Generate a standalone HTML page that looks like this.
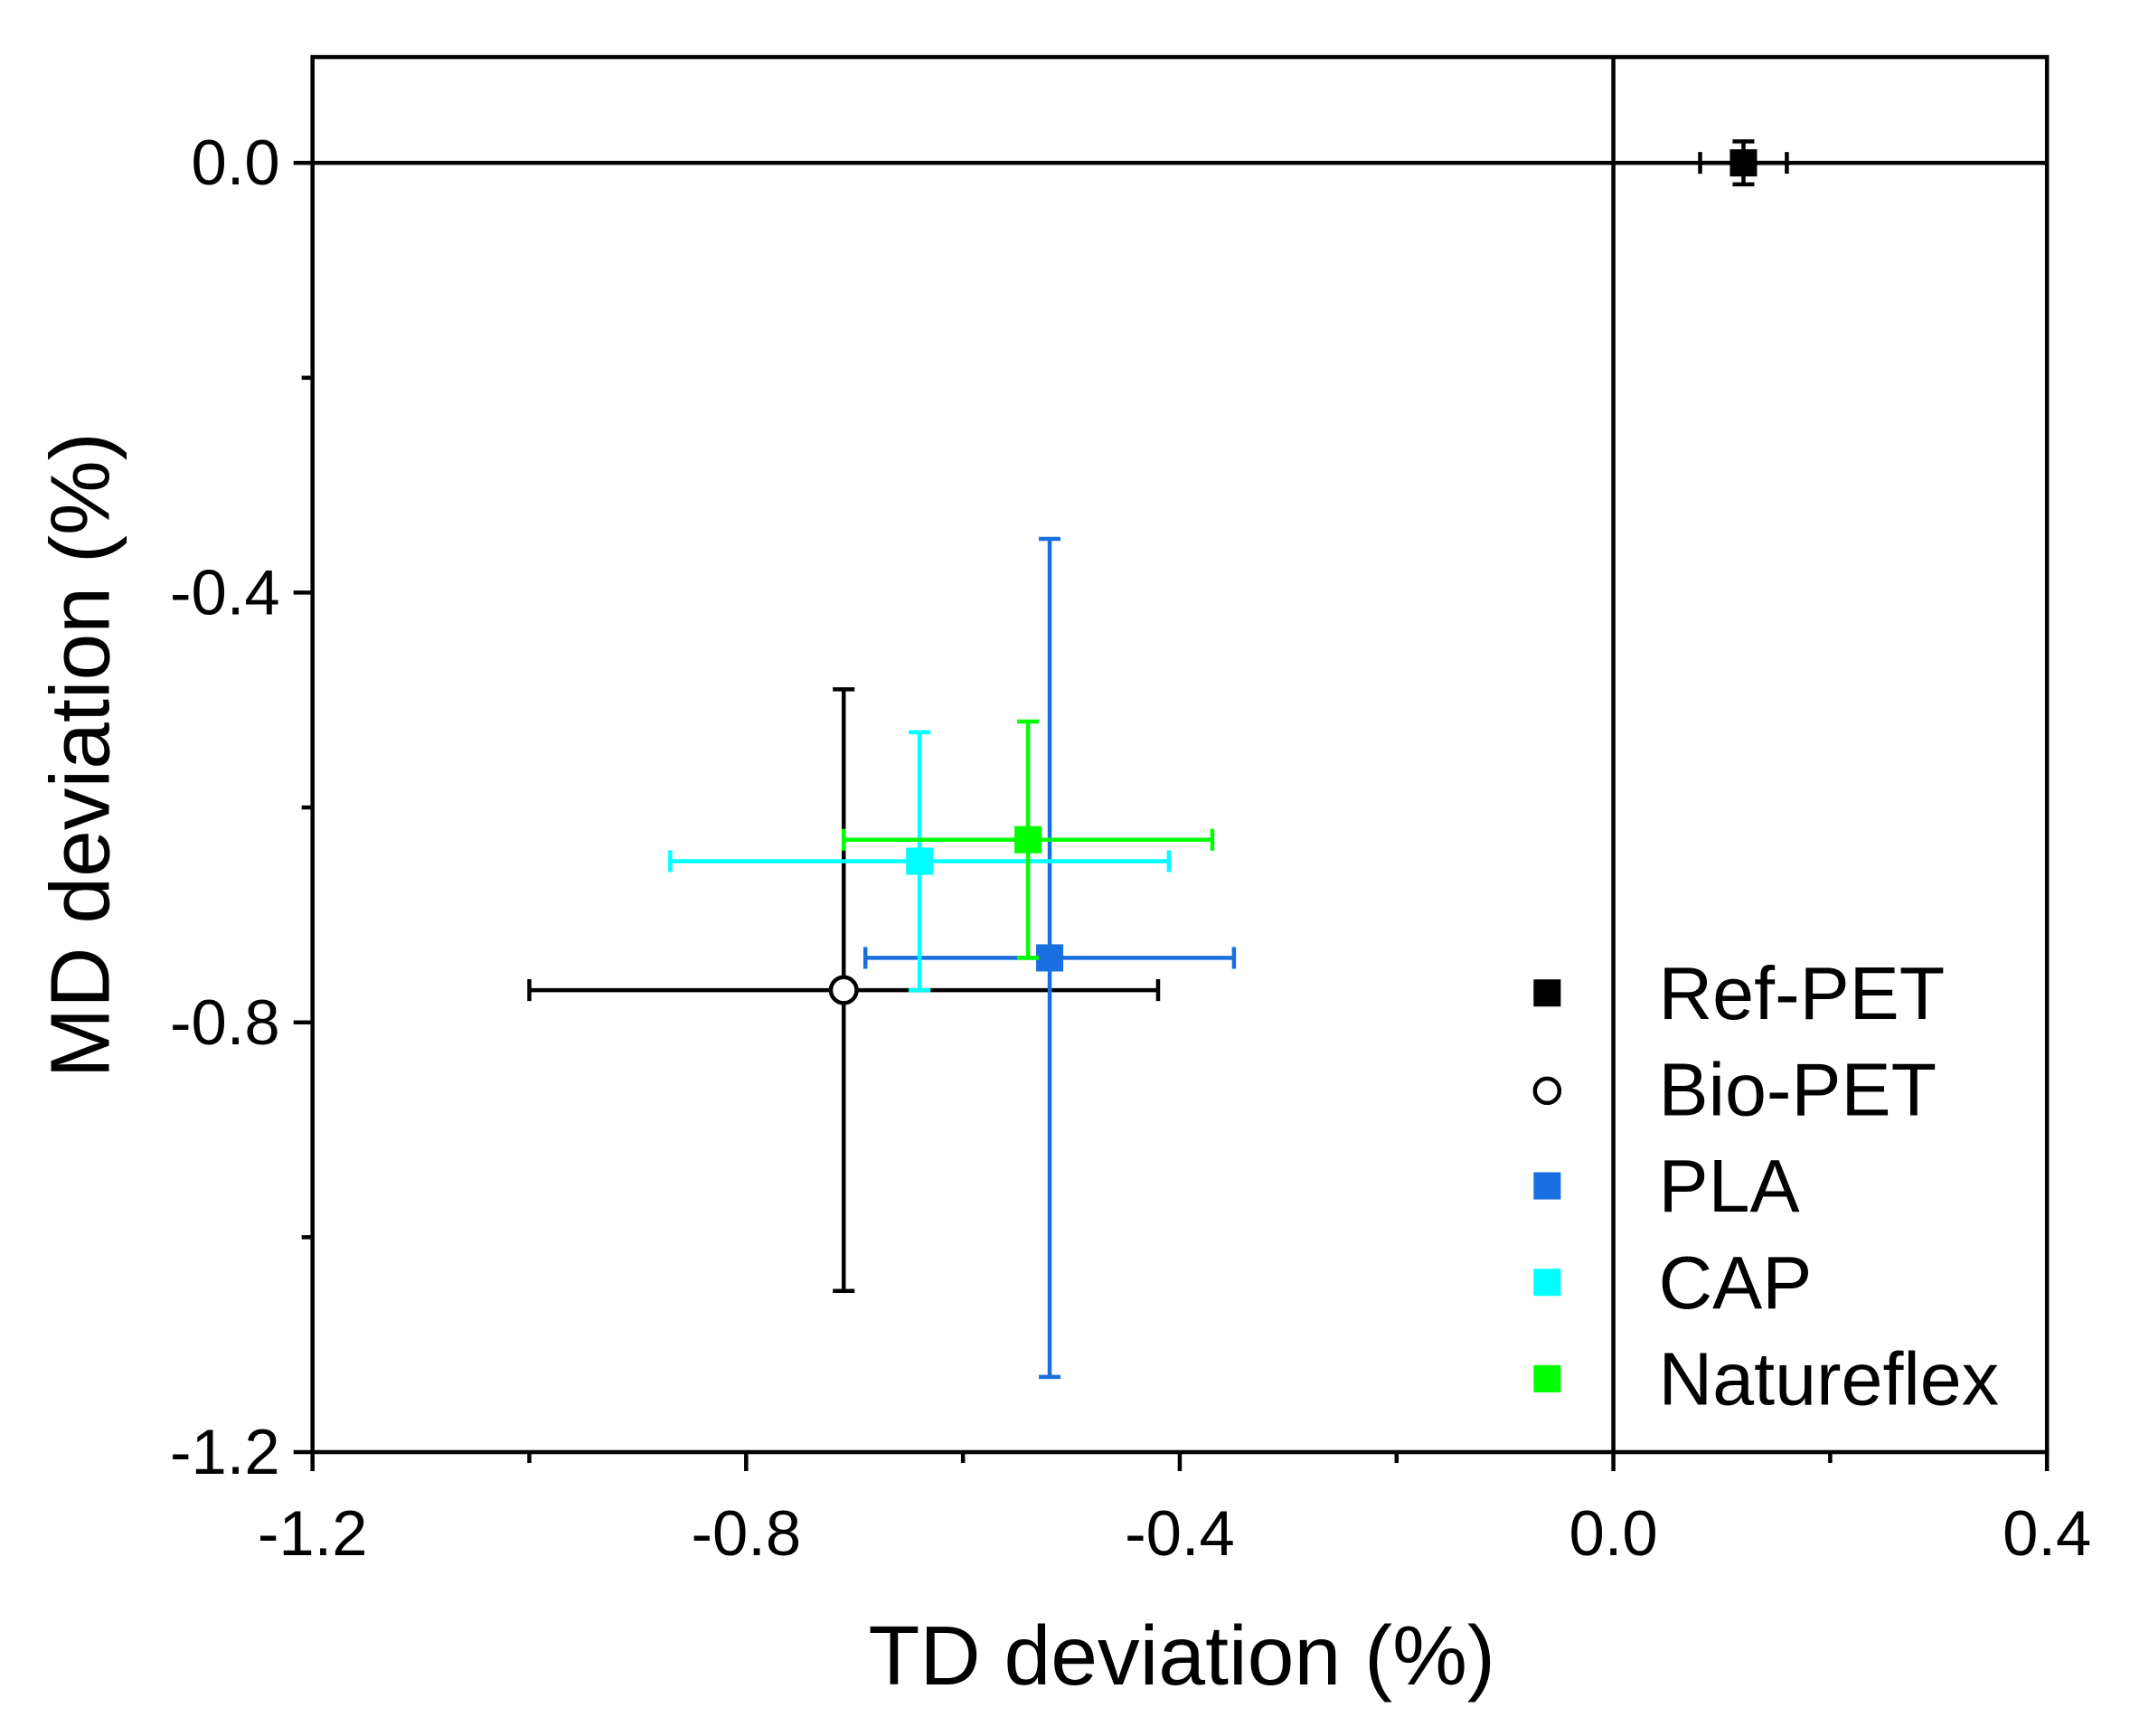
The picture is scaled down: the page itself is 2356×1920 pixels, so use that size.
<!DOCTYPE html>
<html><head><meta charset="utf-8"><style>
html,body{margin:0;padding:0;background:#fff;}
svg{display:block;font-family:"Liberation Sans",Arial,sans-serif;}
</style></head><body>
<svg id="chart" width="2356" height="1920" viewBox="0 0 1568 1278" xmlns="http://www.w3.org/2000/svg"></svg>
<script>
const names=["Ref-PET","Bio-PET","PLA","CAP","Natureflex"];
const xVals=[0.12,-0.71,-0.52,-0.64,-0.54];
const yVals=[0.0,-0.77,-0.74,-0.65,-0.63];
const xErr=[0.04,0.29,0.17,0.23,0.17];
const yErr=[0.02,0.28,0.39,0.12,0.11];
const colors=["#000000","#000000","#1a6fe0","#00ffff","#00ff00"];
const xTicks=[-1.2,-0.8,-0.4,0.0,0.4];
const xTickLabels=["-1.2","-0.8","-0.4","0.0","0.4"];
const xMinor=[-1.0,-0.6,-0.2,0.2];
const yTicks=[0.0,-0.4,-0.8,-1.2];
const yTickLabels=["0.0","-0.4","-0.8","-1.2"];
const yMinor=[-0.2,-0.6,-1.0];

const L=230,R=1507,T=42,B=1069;
const xMin=-1.2,xMax=0.4,yMin=-1.2,yMax=0.0985;
const X=v=>L+(v-xMin)/(xMax-xMin)*(R-L);
const Y=v=>B-(v-yMin)/(yMax-yMin)*(B-T);
const svg=document.getElementById('chart');
const NS="http://www.w3.org/2000/svg";
function mk(tag,attrs,parent){const e=document.createElementNS(NS,tag);for(const k in attrs)e.setAttribute(k,attrs[k]);(parent||svg).appendChild(e);return e;}

let e;
e=mk('rect',{x:L,y:T,width:R-L,height:B-T,fill:'none',stroke:'#000','stroke-width':3});


e=mk('line',{x1:L,x2:R,y1:Y(0),y2:Y(0),stroke:'#000','stroke-width':3});


e=mk('line',{x1:X(0),x2:X(0),y1:T,y2:B,stroke:'#000','stroke-width':3});



xTicks.forEach((v,i)=>{
  e=mk('line',{x1:X(v),x2:X(v),y1:B,y2:B+14,stroke:'#000','stroke-width':3});
  
  
  e=mk('text',{x:X(v),y:B+76,'font-size':47,'text-anchor':'middle'});
  e.textContent=xTickLabels[i];
  
  
});
xMinor.forEach(v=>{
  e=mk('line',{x1:X(v),x2:X(v),y1:B,y2:B+8,stroke:'#000','stroke-width':3});
  
  
});
yTicks.forEach((v,i)=>{
  e=mk('line',{x1:L-14,x2:L,y1:Y(v),y2:Y(v),stroke:'#000','stroke-width':3});
  
  
  e=mk('text',{x:L-24,y:Y(v)+16,'font-size':47,'text-anchor':'end'});
  e.textContent=yTickLabels[i];
  
  
});
yMinor.forEach(v=>{
  e=mk('line',{x1:L-8,x2:L,y1:Y(v),y2:Y(v),stroke:'#000','stroke-width':3});
  
  
});

e=mk('text',{x:870,y:1240,'font-size':62,'text-anchor':'middle'});
e.textContent='TD deviation (%)';


e=mk('text',{x:0,y:0,'font-size':62,'text-anchor':'middle',transform:'translate(80,556) rotate(-90)'});
e.textContent='MD deviation (%)';



names.forEach((n,i)=>{
  const g=mk('g',{});
  
  
  const cx=X(xVals[i]),cy=Y(yVals[i]);
  const x1=X(xVals[i]-xErr[i]),x2=X(xVals[i]+xErr[i]);
  const y1=Y(yVals[i]+yErr[i]),y2=Y(yVals[i]-yErr[i]);
  const c=colors[i],sw=3,cap=8;
  e=mk('path',{d:`M${x1},${cy}H${x2}M${x1},${cy-cap}V${cy+cap}M${x2},${cy-cap}V${cy+cap}`,stroke:c,'stroke-width':sw,fill:'none'},g);
  
  
  e=mk('path',{d:`M${cx},${y1}V${y2}M${cx-cap},${y1}H${cx+cap}M${cx-cap},${y2}H${cx+cap}`,stroke:c,'stroke-width':sw,fill:'none'},g);
  
  
  if(i===1){
    e=mk('circle',{cx:cx,cy:cy,r:9.5,fill:'#fff',stroke:'#000','stroke-width':3},g);
  }else{
    e=mk('rect',{x:cx-10,y:cy-10,width:20,height:20,fill:c},g);
  }
  
  
  const ly=731+i*71;
  const lg=mk('g',{});
  
  
  if(i===1){
    e=mk('circle',{cx:1139,cy:ly+1,r:9,fill:'#fff',stroke:'#000','stroke-width':3},lg);
  }else{
    e=mk('rect',{x:1129,y:ly-10,width:20,height:20,fill:c},lg);
  }
  
  
  e=mk('text',{x:1221,y:ly+19,'font-size':55},lg);
  e.textContent=n;
  
  
});
</script>
</body></html>
